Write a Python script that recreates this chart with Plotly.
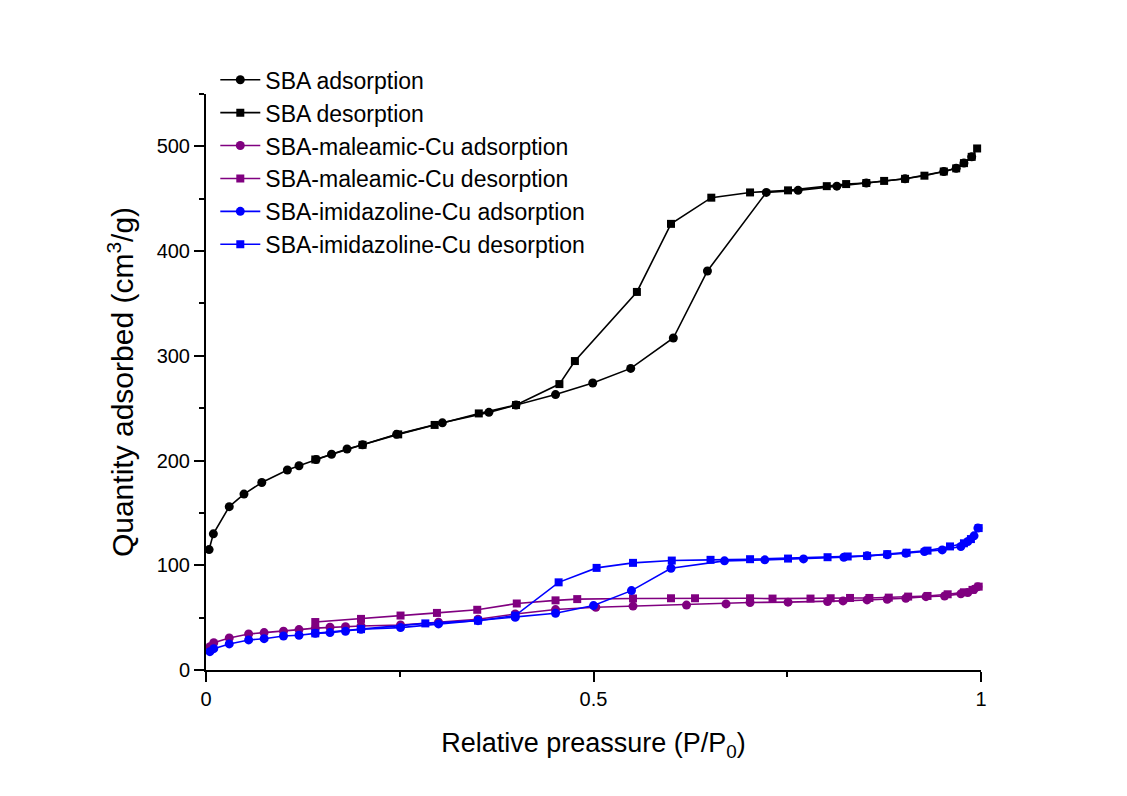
import plotly.graph_objects as go

# SBA
sba_ads_x = [0.004, 0.0095, 0.030, 0.049, 0.072, 0.105, 0.120, 0.142, 0.162, 0.182, 0.202, 0.246, 0.305, 0.365,
             0.400, 0.451, 0.499, 0.548, 0.603, 0.647, 0.723, 0.764, 0.814, 0.852, 0.902, 0.952, 0.968, 0.978, 0.988]
sba_ads_y = [115, 130, 156, 168, 179, 191, 195, 201, 206, 211, 215, 225, 236, 246,
             253, 263, 274, 288, 317, 381, 456, 458, 462, 465, 469, 476, 479, 484, 490]
sba_des_x = [0.995, 0.988, 0.978, 0.968, 0.952, 0.927, 0.902, 0.875, 0.852, 0.826, 0.801, 0.751, 0.702, 0.652,
             0.600, 0.556, 0.476, 0.456, 0.400, 0.352, 0.295, 0.248, 0.202, 0.141]
sba_des_y = [498, 490, 484, 479, 476, 472, 469, 467, 465, 464, 462, 458, 456, 451,
             426, 361, 295, 273, 253, 245, 234, 225, 215, 201]

# SBA-maleamic-Cu
mal_ads_x = [0.005, 0.010, 0.030, 0.055, 0.075, 0.100, 0.120, 0.141, 0.160, 0.180, 0.200, 0.251, 0.300, 0.351,
             0.399, 0.451, 0.503, 0.551, 0.620, 0.671, 0.702, 0.751, 0.802, 0.822, 0.853, 0.879, 0.903, 0.929,
             0.953, 0.974, 0.983, 0.991, 0.996]
mal_ads_y = [22.3, 26, 30.6, 34.4, 35.7, 37, 38.6, 40, 40.8, 41.4, 42, 43, 45.6, 48.5,
             53.5, 57.7, 59.9, 61, 62, 63.1, 64.5, 64.8, 65.4, 66, 66.9, 67.6, 68.5, 70,
             70.7, 72.7, 74, 77, 79.6]
mal_des_x = [0.997, 0.989, 0.978, 0.957, 0.931, 0.906, 0.881, 0.856, 0.831, 0.806, 0.780, 0.731, 0.702, 0.631,
             0.600, 0.551, 0.479, 0.451, 0.401, 0.350, 0.298, 0.251, 0.200, 0.141]
mal_des_y = [79.6, 76.5, 74.2, 72.3, 70.7, 70.1, 69.1, 68.8, 68.8, 68.5, 68.2, 68.2, 68.5, 68.5,
             68.5, 68.3, 67.7, 66.5, 63.5, 57.5, 54.5, 52, 48.8, 45.8]

# SBA-imidazoline-Cu
imi_ads_x = [0.005, 0.010, 0.030, 0.055, 0.075, 0.100, 0.120, 0.141, 0.160, 0.180, 0.200, 0.251, 0.300, 0.351,
             0.399, 0.451, 0.500, 0.549, 0.600, 0.669, 0.721, 0.771, 0.823, 0.853, 0.879, 0.903, 0.927, 0.950,
             0.974, 0.983, 0.991, 0.996]
imi_ads_y = [17.5, 20.4, 24.9, 28.7, 29.9, 32.5, 33.2, 35, 35.7, 37, 38.9, 40.5, 44, 47.1,
             50.4, 54.2, 61.5, 75.8, 97.2, 104.2, 105.2, 106.1, 107.7, 109, 110, 111.5, 113.1, 114.7,
             117.9, 122.7, 128.1, 135.5]
imi_des_x = [0.997, 0.987, 0.978, 0.960, 0.931, 0.904, 0.879, 0.853, 0.828, 0.802, 0.751, 0.702, 0.651, 0.601,
             0.551, 0.504, 0.455, 0.399, 0.351, 0.283, 0.200, 0.141]
imi_des_y = [135.5, 125, 121, 118, 114, 112, 110.6, 109, 108.4, 107.7, 106.4, 105.8, 105.2, 104.5,
             102.3, 97.5, 83.7, 52, 47.1, 44.5, 39, 35]

series = [
    ("SBA adsorption", sba_ads_x, sba_ads_y, "black", "circle", 9),
    ("SBA desorption", sba_des_x, sba_des_y, "black", "square", 8),
    ("SBA-maleamic-Cu adsorption", mal_ads_x, mal_ads_y, "#800080", "circle", 9),
    ("SBA-maleamic-Cu desorption", mal_des_x, mal_des_y, "#800080", "square", 8),
    ("SBA-imidazoline-Cu adsorption", imi_ads_x, imi_ads_y, "#0000FF", "circle", 9),
    ("SBA-imidazoline-Cu desorption", imi_des_x, imi_des_y, "#0000FF", "square", 8),
]

fig = go.Figure()
for name, xs, ys, col, sym, sz in series:
    fig.add_trace(go.Scatter(
        x=xs, y=ys, name=name, mode="lines+markers",
        line=dict(color=col, width=1.6),
        marker=dict(color=col, symbol=sym, size=sz),
        cliponaxis=False,
    ))

font_family = "Liberation Sans, Arial, sans-serif"
fig.update_layout(
    width=1127, height=796,
    paper_bgcolor="white", plot_bgcolor="white",
    margin=dict(l=206, r=146, t=94, b=126),
    font=dict(family=font_family, size=20, color="black"),
    showlegend=True,
    legend=dict(
        x=0.012, y=1.062, xanchor="left", yanchor="top",
        bgcolor="rgba(0,0,0,0)", font=dict(size=23, family=font_family),
        tracegroupgap=0, itemwidth=40,
    ),
    xaxis=dict(
        range=[0, 1], showgrid=False, zeroline=False,
        showline=True, linecolor="black", linewidth=2,
        ticks="outside", ticklen=10, tickwidth=2, tickcolor="black",
        tickvals=[0, 0.5, 1], ticktext=["0", "0.5", "1"],
        tickfont=dict(size=20),
        minor=dict(tickvals=[0.25, 0.75], ticks="outside", ticklen=5, tickwidth=2, tickcolor="black"),
        title=dict(text="Relative preassure (P/P<sub>0</sub>)", font=dict(size=27), standoff=24),
    ),
    yaxis=dict(
        range=[0, 550], showgrid=False, zeroline=False,
        showline=True, linecolor="black", linewidth=2,
        ticks="outside", ticklen=10, tickwidth=2, tickcolor="black",
        tickvals=[0, 100, 200, 300, 400, 500],
        tickfont=dict(size=20),
        minor=dict(tickvals=[50, 150, 250, 350, 450, 550], ticks="outside", ticklen=5, tickwidth=2, tickcolor="black"),
        title=dict(text="Quantity adsorbed (cm<sup>3</sup>/g)", font=dict(size=30), standoff=14),
    ),
)

fig.write_html("out.html")
